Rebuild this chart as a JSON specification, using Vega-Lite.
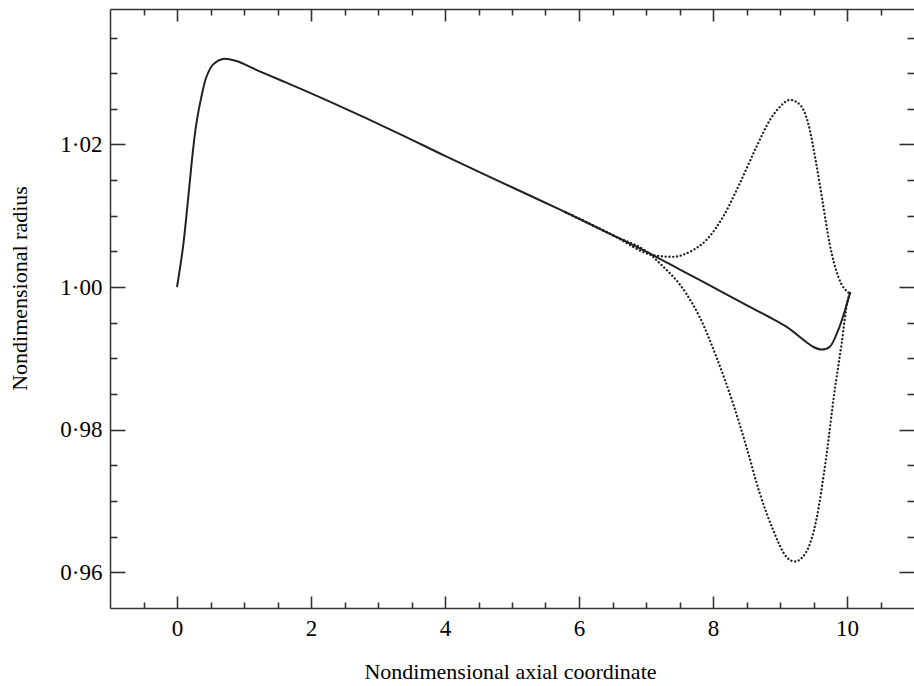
{
  "$schema": "https://vega.github.io/schema/vega-lite/v6.json",
  "autosize": {"type": "none"},
  "padding": {"left": 110, "top": 9, "right": 0, "bottom": 78},
  "width": 804,
  "height": 599,
  "background": "white",
  "config": {
    "view": {"stroke": null},
    "font": "Liberation Serif",
    "axis": {
      "grid": false,
      "domainColor": "#333",
      "domainWidth": 1.5,
      "tickColor": "#333",
      "tickWidth": 1.6,
      "labelFont": "Liberation Serif",
      "labelFontSize": 23,
      "labelColor": "black",
      "titleFont": "Liberation Serif",
      "titleFontSize": 22,
      "titleFontWeight": "normal",
      "titleColor": "black"
    }
  },
  "datasets": {
    "solid": [
      {"x": 0.0, "r": 1.0},
      {"x": 0.09, "r": 1.00565},
      {"x": 0.164, "r": 1.0122},
      {"x": 0.239, "r": 1.0192},
      {"x": 0.29, "r": 1.023},
      {"x": 0.364, "r": 1.0267},
      {"x": 0.44, "r": 1.0295},
      {"x": 0.537, "r": 1.0312},
      {"x": 0.687, "r": 1.032},
      {"x": 0.886, "r": 1.0317},
      {"x": 1.2, "r": 1.0304},
      {"x": 1.6, "r": 1.0288},
      {"x": 2.28, "r": 1.026},
      {"x": 3.32, "r": 1.0215},
      {"x": 4.0, "r": 1.0184},
      {"x": 5.0, "r": 1.014},
      {"x": 5.71, "r": 1.0109},
      {"x": 6.5, "r": 1.0073},
      {"x": 7.1, "r": 1.0045},
      {"x": 7.5, "r": 1.0025},
      {"x": 8.0, "r": 1.0},
      {"x": 8.5, "r": 0.99747},
      {"x": 8.8, "r": 0.996},
      {"x": 9.1, "r": 0.99442},
      {"x": 9.39, "r": 0.99231},
      {"x": 9.5, "r": 0.9916},
      {"x": 9.62, "r": 0.99124},
      {"x": 9.74, "r": 0.9916},
      {"x": 9.87, "r": 0.994},
      {"x": 9.97, "r": 0.99676},
      {"x": 10.05, "r": 0.99933}
    ],
    "upper": [
      {"x": 5.8, "r": 1.0105},
      {"x": 6.5, "r": 1.0073},
      {"x": 7.1, "r": 1.0045},
      {"x": 7.4, "r": 1.00425},
      {"x": 7.7, "r": 1.00519},
      {"x": 7.9, "r": 1.0066},
      {"x": 8.15, "r": 1.00986},
      {"x": 8.4, "r": 1.01455},
      {"x": 8.65, "r": 1.0197},
      {"x": 8.85, "r": 1.02344},
      {"x": 9.0, "r": 1.0253},
      {"x": 9.15, "r": 1.02625},
      {"x": 9.3, "r": 1.02555},
      {"x": 9.42, "r": 1.023},
      {"x": 9.54, "r": 1.01736},
      {"x": 9.64, "r": 1.01174},
      {"x": 9.74, "r": 1.00613},
      {"x": 9.87, "r": 1.00144},
      {"x": 10.04, "r": 0.9991}
    ],
    "lower": [
      {"x": 5.8, "r": 1.0105},
      {"x": 6.5, "r": 1.0073},
      {"x": 7.1, "r": 1.0043},
      {"x": 7.155, "r": 1.0038},
      {"x": 7.6, "r": 0.9991},
      {"x": 7.8, "r": 0.99582},
      {"x": 8.05, "r": 0.9902},
      {"x": 8.3, "r": 0.98366},
      {"x": 8.5, "r": 0.97757},
      {"x": 8.7, "r": 0.97103},
      {"x": 8.9, "r": 0.96588},
      {"x": 9.1, "r": 0.96213},
      {"x": 9.22, "r": 0.96152},
      {"x": 9.39, "r": 0.96283},
      {"x": 9.54, "r": 0.96728},
      {"x": 9.69, "r": 0.97617},
      {"x": 9.81, "r": 0.98507},
      {"x": 9.92, "r": 0.99209},
      {"x": 10.01, "r": 0.99817},
      {"x": 10.04, "r": 0.9991}
    ]
  },
  "resolve": {"axis": {"x": "independent", "y": "independent"}},
  "layer": [
    {
      "data": {"name": "solid"},
      "mark": {"type": "line", "color": "#222", "strokeWidth": 2, "interpolate": "catmull-rom"},
      "encoding": {
        "x": {
          "field": "x", "type": "quantitative",
          "scale": {"domain": [-1, 11], "nice": false, "zero": false},
          "axis": {
            "orient": "bottom",
            "values": [0, 2, 4, 6, 8, 10],
            "tickSize": -12,
            "labelPadding": 21,
            "title": "Nondimensional axial coordinate",
            "titleX": 400,
            "titleY": 70,
            "titleBaseline": "alphabetic"
          }
        },
        "y": {
          "field": "r", "type": "quantitative",
          "scale": {"domain": [0.955, 1.039], "nice": false, "zero": false},
          "axis": {
            "orient": "left",
            "values": [0.96, 0.98, 1.0, 1.02],
            "tickSize": -15,
            "labelPadding": 23,
            "labelExpr": "replace(format(datum.value, '.2f'), '.', '·')",
            "title": "Nondimensional radius",
            "titleX": -91,
            "titleY": 279,
            "titleBaseline": "middle"
          }
        }
      }
    },
    {
      "data": {"name": "upper"},
      "mark": {"type": "line", "color": "#222", "strokeWidth": 2.3, "strokeDash": [0.1, 3.7], "strokeCap": "round", "interpolate": "monotone"},
      "encoding": {
        "x": {
          "field": "x", "type": "quantitative",
          "axis": {"orient": "top", "values": [0, 2, 4, 6, 8, 10], "tickSize": -12, "labels": false, "title": null}
        },
        "y": {
          "field": "r", "type": "quantitative",
          "axis": {"orient": "right", "values": [0.96, 0.98, 1.0, 1.02], "tickSize": -15, "labels": false, "domain": false, "title": null}
        }
      }
    },
    {
      "data": {"name": "lower"},
      "mark": {"type": "line", "color": "#222", "strokeWidth": 2.3, "strokeDash": [0.1, 3.7], "strokeCap": "round", "interpolate": "monotone"},
      "encoding": {
        "x": {
          "field": "x", "type": "quantitative",
          "axis": {"orient": "bottom", "values": [-0.5, 0.5, 1, 1.5, 2.5, 3, 3.5, 4.5, 5, 5.5, 6.5, 7, 7.5, 8.5, 9, 9.5, 10.5], "tickSize": -6, "labels": false, "domain": false, "title": null}
        },
        "y": {
          "field": "r", "type": "quantitative",
          "axis": {"orient": "left", "values": [0.965, 0.97, 0.975, 0.985, 0.99, 0.995, 1.005, 1.01, 1.015, 1.025, 1.03, 1.035], "tickSize": -7, "labels": false, "domain": false, "title": null}
        }
      }
    },
    {
      "data": {"name": "solid"},
      "mark": {"type": "line", "strokeOpacity": 0, "interpolate": "monotone"},
      "encoding": {
        "x": {
          "field": "x", "type": "quantitative",
          "axis": {"orient": "top", "values": [-0.5, 0.5, 1, 1.5, 2.5, 3, 3.5, 4.5, 5, 5.5, 6.5, 7, 7.5, 8.5, 9, 9.5, 10.5], "tickSize": -6, "labels": false, "domain": false, "title": null}
        },
        "y": {
          "field": "r", "type": "quantitative",
          "axis": {"orient": "right", "values": [0.965, 0.97, 0.975, 0.985, 0.99, 0.995, 1.005, 1.01, 1.015, 1.025, 1.03, 1.035], "tickSize": -7, "labels": false, "domain": false, "title": null}
        }
      }
    }
  ]
}
